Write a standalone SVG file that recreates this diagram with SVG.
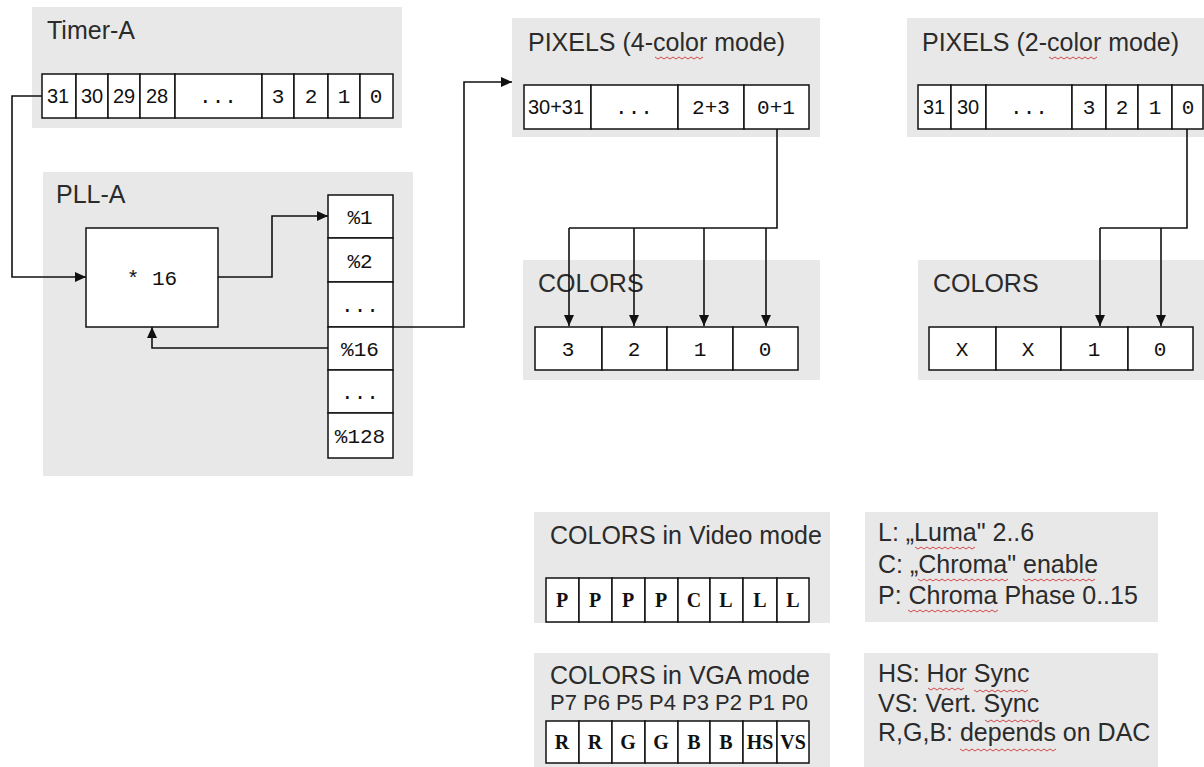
<svg xmlns="http://www.w3.org/2000/svg" width="1204" height="767" viewBox="0 0 1204 767">
<style>
.bg{fill:#ffffff}
.panel{fill:#e8e8e8}
.cell{fill:#ffffff;stroke:#111;stroke-width:1.5}
.title{font-family:"Liberation Sans",Arial,sans-serif;font-size:25px;fill:#2b2b2b}
.note{font-family:"Liberation Sans",Arial,sans-serif;font-size:25px;fill:#2b2b2b}
.small{font-family:"Liberation Sans",Arial,sans-serif;font-size:22px;fill:#2b2b2b}
.mono{font-family:"Liberation Mono","DejaVu Sans Mono",monospace;font-size:21px;fill:#111;text-anchor:middle}
.sans{font-family:"Liberation Sans",Arial,sans-serif;font-size:20px;fill:#111;text-anchor:middle}
.bold{font-family:"Liberation Serif","Times New Roman",serif;font-size:20px;font-weight:600;fill:#111;text-anchor:middle}
.wire{fill:none;stroke:#111;stroke-width:1.6}
.arr{marker-end:url(#ah)}
.sq{fill:none;stroke:#d04848;stroke-width:1}
</style>
<defs>
<marker id="ah" markerUnits="userSpaceOnUse" markerWidth="11" markerHeight="10" refX="11" refY="5" orient="auto">
<path d="M0,0 L11,5 L0,10 z" fill="#111"/>
</marker>
</defs>
<rect class="bg" x="0" y="0" width="1204" height="767"/>

<g id="timer-a">
<rect class="panel" x="32" y="7" width="370" height="121"/>
<text class="title" x="47" y="39">Timer-A</text>
<rect class="cell" x="42" y="74" width="34" height="44"/>
<rect class="cell" x="76" y="74" width="32" height="44"/>
<rect class="cell" x="108" y="74" width="32" height="44"/>
<rect class="cell" x="140" y="74" width="35" height="44"/>
<rect class="cell" x="175" y="74" width="87" height="44"/>
<rect class="cell" x="262" y="74" width="32" height="44"/>
<rect class="cell" x="294" y="74" width="34" height="44"/>
<rect class="cell" x="328" y="74" width="32" height="44"/>
<rect class="cell" x="360" y="74" width="33" height="44"/>
<text class="sans" x="58" y="103">31</text>
<text class="sans" x="92" y="103">30</text>
<text class="sans" x="124" y="103">29</text>
<text class="sans" x="157" y="103">28</text>
<text class="mono" x="218" y="103">...</text>
<text class="mono" x="278" y="103">3</text>
<text class="mono" x="311" y="103">2</text>
<text class="mono" x="344" y="103">1</text>
<text class="mono" x="376" y="103">0</text>
</g>

<g id="pll-a">
<rect class="panel" x="43" y="172" width="370" height="304"/>
<text class="title" x="56" y="203">PLL-A</text>
<rect class="cell" x="86" y="228" width="132" height="99"/>
<text class="mono" x="152" y="285" font-size="22">* 16</text>
</g>

<g id="dividers">
<rect class="cell" x="328" y="195" width="65" height="43"/>
<rect class="cell" x="328" y="238" width="65" height="44"/>
<rect class="cell" x="328" y="282" width="65" height="45"/>
<rect class="cell" x="328" y="327" width="65" height="43"/>
<rect class="cell" x="328" y="370" width="65" height="43"/>
<rect class="cell" x="328" y="413" width="65" height="45"/>
<text class="mono" x="360" y="224">%1</text>
<text class="mono" x="360" y="268">%2</text>
<text class="mono" x="360" y="312">...</text>
<text class="mono" x="360" y="356">%16</text>
<text class="mono" x="360" y="399">...</text>
<text class="mono" x="360" y="443">%128</text>
</g>

<g id="pixels-4">
<rect class="panel" x="512" y="18" width="308" height="119"/>
<text class="title" x="528" y="51">PIXELS (4-color mode)</text>
<path class="sq" d="M655,57 l3,2 l3,-2 l3,2 l3,-2 l3,2 l3,-2 l3,2 l3,-2 l3,2 l3,-2 l3,2 l3,-2 l3,2 l3,-2 l3,2 l3,-2"/>
<rect class="cell" x="524" y="85" width="67" height="44"/>
<rect class="cell" x="591" y="85" width="87" height="44"/>
<rect class="cell" x="678" y="85" width="66" height="44"/>
<rect class="cell" x="744" y="85" width="65" height="44"/>
<text class="sans" x="556" y="114" font-size="21">30+31</text>
<text class="mono" x="634" y="114">...</text>
<text class="mono" x="711" y="114">2+3</text>
<text class="mono" x="776" y="114">0+1</text>
</g>

<g id="pixels-2">
<rect class="panel" x="907" y="18" width="297" height="119"/>
<text class="title" x="922" y="51">PIXELS (2-color mode)</text>
<path class="sq" d="M1049,57 l3,2 l3,-2 l3,2 l3,-2 l3,2 l3,-2 l3,2 l3,-2 l3,2 l3,-2 l3,2 l3,-2 l3,2 l3,-2 l3,2 l3,-2"/>
<rect class="cell" x="918" y="85" width="33" height="44"/>
<rect class="cell" x="951" y="85" width="35" height="44"/>
<rect class="cell" x="986" y="85" width="86" height="44"/>
<rect class="cell" x="1072" y="85" width="34" height="44"/>
<rect class="cell" x="1106" y="85" width="32" height="44"/>
<rect class="cell" x="1138" y="85" width="34" height="44"/>
<rect class="cell" x="1172" y="85" width="31" height="44"/>
<text class="sans" x="934" y="114">31</text>
<text class="sans" x="968" y="114">30</text>
<text class="mono" x="1029" y="114">...</text>
<text class="mono" x="1089" y="114">3</text>
<text class="mono" x="1122" y="114">2</text>
<text class="mono" x="1155" y="114">1</text>
<text class="mono" x="1188" y="114">0</text>
</g>

<g id="colors-4">
<rect class="panel" x="523" y="260" width="297" height="120"/>
<text class="title" x="538" y="292">COLORS</text>
<rect class="cell" x="535" y="327" width="67" height="43"/>
<rect class="cell" x="602" y="327" width="65" height="43"/>
<rect class="cell" x="667" y="327" width="66" height="43"/>
<rect class="cell" x="733" y="327" width="65" height="43"/>
<text class="mono" x="568" y="356">3</text>
<text class="mono" x="634" y="356">2</text>
<text class="mono" x="700" y="356">1</text>
<text class="mono" x="765" y="356">0</text>
</g>

<g id="colors-2">
<rect class="panel" x="918" y="260" width="286" height="120"/>
<text class="title" x="933" y="292">COLORS</text>
<rect class="cell" x="929" y="327" width="67" height="43"/>
<rect class="cell" x="996" y="327" width="65" height="43"/>
<rect class="cell" x="1061" y="327" width="67" height="43"/>
<rect class="cell" x="1128" y="327" width="65" height="43"/>
<text class="mono" x="962" y="356">X</text>
<text class="mono" x="1028" y="356">X</text>
<text class="mono" x="1094" y="356">1</text>
<text class="mono" x="1160" y="356">0</text>
</g>

<g id="video-mode">
<rect class="panel" x="534" y="512" width="296" height="111"/>
<text class="title" x="550" y="544">COLORS in Video mode</text>
<rect class="cell" x="546" y="578" width="33" height="44"/>
<rect class="cell" x="579" y="578" width="33" height="44"/>
<rect class="cell" x="612" y="578" width="33" height="44"/>
<rect class="cell" x="645" y="578" width="33" height="44"/>
<rect class="cell" x="678" y="578" width="32" height="44"/>
<rect class="cell" x="710" y="578" width="33" height="44"/>
<rect class="cell" x="743" y="578" width="34" height="44"/>
<rect class="cell" x="777" y="578" width="32" height="44"/>
<text class="bold" x="562" y="607">P</text>
<text class="bold" x="595" y="607">P</text>
<text class="bold" x="628" y="607">P</text>
<text class="bold" x="661" y="607">P</text>
<text class="bold" x="694" y="607">C</text>
<text class="bold" x="726" y="607">L</text>
<text class="bold" x="760" y="607">L</text>
<text class="bold" x="793" y="607">L</text>
</g>

<g id="video-legend">
<rect class="panel" x="865" y="512" width="293" height="110"/>
<text class="note" x="878" y="541">L: „Luma" 2..6</text>
<text class="note" x="878" y="573">C: „Chroma" enable</text>
<text class="note" x="878" y="604">P: Chroma Phase 0..15</text>
<path class="sq" d="M915,547 l3,2 l3,-2 l3,2 l3,-2 l3,2 l3,-2 l3,2 l3,-2 l3,2 l3,-2 l3,2 l3,-2 l3,2 l3,-2 l3,2 l3,-2 l3,2 l3,-2 l3,2 l3,-2"/>
<path class="sq" d="M918,579 l3,2 l3,-2 l3,2 l3,-2 l3,2 l3,-2 l3,2 l3,-2 l3,2 l3,-2 l3,2 l3,-2 l3,2 l3,-2 l3,2 l3,-2 l3,2 l3,-2 l3,2 l3,-2 l3,2 l3,-2 l3,2 l3,-2 l3,2 l3,-2 l3,2 l3,-2 l3,2 l3,-2"/>
<path class="sq" d="M1023,579 l3,2 l3,-2 l3,2 l3,-2 l3,2 l3,-2 l3,2 l3,-2 l3,2 l3,-2 l3,2 l3,-2 l3,2 l3,-2 l3,2 l3,-2 l3,2 l3,-2 l3,2 l3,-2 l3,2 l3,-2 l3,2 l3,-2"/>
<path class="sq" d="M908,610 l3,2 l3,-2 l3,2 l3,-2 l3,2 l3,-2 l3,2 l3,-2 l3,2 l3,-2 l3,2 l3,-2 l3,2 l3,-2 l3,2 l3,-2 l3,2 l3,-2 l3,2 l3,-2 l3,2 l3,-2 l3,2 l3,-2 l3,2 l3,-2 l3,2 l3,-2 l3,2 l3,-2"/>
</g>

<g id="vga-mode">
<rect class="panel" x="534" y="653" width="296" height="114"/>
<text class="title" x="550" y="684">COLORS in VGA mode</text>
<text class="small" x="550" y="710">P7 P6 P5 P4 P3 P2 P1 P0</text>
<rect class="cell" x="546" y="721" width="33" height="42"/>
<rect class="cell" x="579" y="721" width="33" height="42"/>
<rect class="cell" x="612" y="721" width="33" height="42"/>
<rect class="cell" x="645" y="721" width="33" height="42"/>
<rect class="cell" x="678" y="721" width="32" height="42"/>
<rect class="cell" x="710" y="721" width="33" height="42"/>
<rect class="cell" x="743" y="721" width="34" height="42"/>
<rect class="cell" x="777" y="721" width="32" height="42"/>
<text class="bold" x="562" y="749">R</text>
<text class="bold" x="595" y="749">R</text>
<text class="bold" x="628" y="749">G</text>
<text class="bold" x="661" y="749">G</text>
<text class="bold" x="694" y="749">B</text>
<text class="bold" x="726" y="749">B</text>
<text class="bold" x="760" y="749" font-size="15">HS</text>
<text class="bold" x="793" y="749" font-size="15">VS</text>
</g>

<g id="vga-legend">
<rect class="panel" x="864" y="653" width="294" height="114"/>
<text class="note" x="878" y="682">HS: Hor Sync</text>
<text class="note" x="878" y="712">VS: Vert. Sync</text>
<text class="note" x="878" y="741">R,G,B: depends on DAC</text>
<path class="sq" d="M928,688 l3,2 l3,-2 l3,2 l3,-2 l3,2 l3,-2 l3,2 l3,-2 l3,2 l3,-2 l3,2 l3,-2"/>
<path class="sq" d="M974,690 l3,2 l3,-2 l3,2 l3,-2 l3,2 l3,-2 l3,2 l3,-2 l3,2 l3,-2 l3,2 l3,-2 l3,2 l3,-2 l3,2 l3,-2 l3,2 l3,-2"/>
<path class="sq" d="M985,720 l3,2 l3,-2 l3,2 l3,-2 l3,2 l3,-2 l3,2 l3,-2 l3,2 l3,-2 l3,2 l3,-2 l3,2 l3,-2 l3,2 l3,-2 l3,2 l3,-2"/>
<path class="sq" d="M960,749 l3,2 l3,-2 l3,2 l3,-2 l3,2 l3,-2 l3,2 l3,-2 l3,2 l3,-2 l3,2 l3,-2 l3,2 l3,-2 l3,2 l3,-2 l3,2 l3,-2 l3,2 l3,-2 l3,2 l3,-2 l3,2 l3,-2 l3,2 l3,-2 l3,2 l3,-2 l3,2 l3,-2 l3,2 l3,-2"/>
</g>

<g id="connectors">
<path class="wire arr" d="M42,96 H12 V277 H86"/>
<path class="wire arr" d="M218,277 H272 V216 H328"/>
<path class="wire arr" d="M328,348 H152 V327"/>
<path class="wire arr" d="M393,327 H464 V82 H512"/>
<path class="wire" d="M777,129 V228 H569"/>
<path class="wire arr" d="M569,228 V326"/>
<path class="wire arr" d="M634,228 V326"/>
<path class="wire arr" d="M704,228 V326"/>
<path class="wire arr" d="M766,228 V326"/>
<path class="wire" d="M1187,129 V228 H1100"/>
<path class="wire arr" d="M1100,228 V326"/>
<path class="wire arr" d="M1161,228 V326"/>
</g>
</svg>
